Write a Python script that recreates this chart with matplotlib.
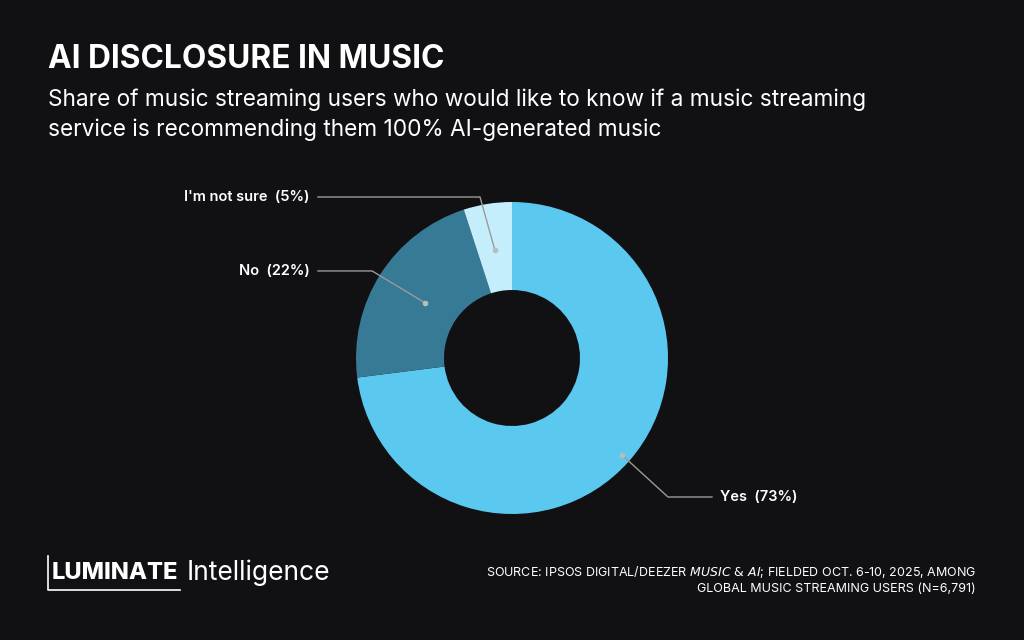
import matplotlib
matplotlib.use("Agg")
import matplotlib.pyplot as plt
import numpy as np

labels = ["Yes", "No", "I'm not sure"]
values = [73, 22, 5]
colors = ["#5BC8F0", "#377A95", "#C5EEFC"]
# label anchor radius, kink point, end x (data units)
anchor_r = [0.94, 0.66, 0.70]
kinks = [(1.0, -0.891), (-0.897, 0.558), (-0.205, 1.032)]
ends_x = [1.282, -1.244, -1.244]

BG = "#111114"
plt.rcParams['font.family'] = ['Inter', 'DejaVu Sans']
fig = plt.figure(figsize=(10.24, 6.4), dpi=100, facecolor=BG)
W, H = 1024, 640
cx, cy, R = 512, 358, 156
half = 200
ax = fig.add_axes([(cx-half)/W, 1-(cy+half)/H, 2*half/W, 2*half/H])
ax.set_facecolor(BG)
lim = half / R
wedges, _ = ax.pie(values, colors=colors, startangle=90, counterclock=False,
                   radius=1, wedgeprops=dict(width=(156-68)/156, edgecolor="none"))
ax.set_xlim(-lim, lim); ax.set_ylim(-lim, lim); ax.set_aspect('equal'); ax.axis('off')

for w, lab, v, r, k, ex in zip(wedges, labels, values, anchor_r, kinks, ends_x):
    ang = np.deg2rad((w.theta1 + w.theta2) / 2)
    px, py = r*np.cos(ang), r*np.sin(ang)
    ax.plot([px, k[0], ex], [py, k[1], k[1]], color="#9A9A9A", lw=1, clip_on=False)
    ax.plot([px], [py], 'o', color="#BBBBBB", ms=3, clip_on=False)
    if ex > 0:
        ax.text(ex + 8/R, k[1], f"{lab}  ({v}%)", color="white", fontsize=10.5,
                fontweight="semibold", ha="left", va="center", clip_on=False)
    else:
        ax.text(ex - 8/R, k[1], f"{lab}  ({v}%)", color="white", fontsize=10.5,
                fontweight="semibold", ha="right", va="center", clip_on=False)

fig.text(48/W, 1-60/H, "AI DISCLOSURE IN MUSIC", color="white", fontsize=22.8,
         fontweight="bold", va="center", ha="left")
fig.text(48/W, 1-100/H, "Share of music streaming users who would like to know if a music streaming",
         color="white", fontsize=16.3, va="center", ha="left")
fig.text(48/W, 1-130/H, "service is recommending them 100% AI-generated music",
         color="white", fontsize=16.3, va="center", ha="left")

fig.text(52/W, 1-573/H, "LUMINATE", color="white", fontsize=17, fontweight="heavy",
         va="center", ha="left", fontstretch="condensed")
fig.text(187/W, 1-573/H, "Intelligence", color="white", fontsize=19,
         va="center", ha="left")
fig.add_artist(plt.Line2D([48/W, 48/W, 180/W], [1-556/H, 1-590/H, 1-590/H],
                          color="white", lw=1.2))

fig.text(976/W, 1-572/H, "SOURCE: IPSOS DIGITAL/DEEZER $\\it{MUSIC\\ &\\ AI}$; FIELDED OCT. 6-10, 2025, AMONG",
         color="white", fontsize=9, ha="right", va="center")
fig.text(976/W, 1-589/H, "GLOBAL MUSIC STREAMING USERS (N=6,791)",
         color="white", fontsize=9, ha="right", va="center")

fig.savefig("out.png", dpi=100, facecolor=BG)
